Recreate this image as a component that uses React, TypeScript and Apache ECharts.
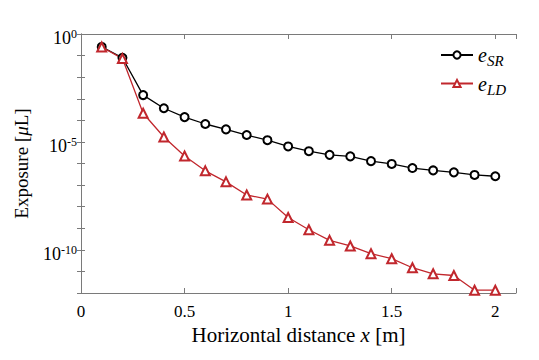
import React, { useEffect, useRef } from "react";
import * as echarts from "echarts";

const distances = [0.1, 0.2, 0.3, 0.4, 0.5, 0.6, 0.7, 0.8, 0.9, 1.0, 1.1, 1.2, 1.3, 1.4, 1.5, 1.6, 1.7, 1.8, 1.9, 2.0];
// exponents (log10 of exposure)
const eSRExp = [-0.6, -1.1, -2.83, -3.44, -3.85, -4.17, -4.42, -4.68, -4.92, -5.21, -5.43, -5.6, -5.67, -5.89, -6.02, -6.21, -6.32, -6.41, -6.53, -6.59];
const eLDExp = [-0.6, -1.14, -3.67, -4.77, -5.65, -6.34, -6.85, -7.46, -7.65, -8.5, -9.07, -9.56, -9.82, -10.18, -10.41, -10.83, -11.11, -11.19, -11.87, -11.87];
const eSR = eSRExp.map((e) => Math.pow(10, e));
const eLD = eLDExp.map((e) => Math.pow(10, e));
const xTicks = [0, 0.5, 1, 1.5, 2];
const yLabelExps = [0, -5, -10];

const FONT = "Liberation Serif, Tinos, Times New Roman, DejaVu Serif, serif";
const AXIS_GREY = "#7a7a7a";
const RED = "#c1272d";

export default function App() {
  const ref = useRef<HTMLDivElement>(null);
  useEffect(() => {
    if (!ref.current) return;
    const chart = echarts.init(ref.current, null, { renderer: "svg" });
    const xLabel = (v: number) => {
      const hit = xTicks.find((t) => Math.abs(t - v) < 1e-9);
      return hit === undefined ? "" : String(hit);
    };
    const yLabel = (v: number) => {
      const e = Math.round(Math.log10(v));
      if (!yLabelExps.includes(e)) return "";
      return `{b|10}{s|${e}}`;
    };
    const tickStyle = { show: true, inside: true, length: 5, lineStyle: { color: AXIS_GREY, width: 1 } };
    const axisLine = { show: true, lineStyle: { color: AXIS_GREY, width: 1 } };
    chart.setOption({
      animation: false,
      backgroundColor: "#fff",
      textStyle: { fontFamily: FONT },
      grid: { left: 81, top: 34, right: 23, bottom: 67, containLabel: false },
      legend: {
        orient: "vertical",
        left: 435,
        top: 40,
        itemWidth: 32,
        itemHeight: 9,
        itemGap: 5,
        data: ["eSR", "eLD"],
        formatter: (name: string) => `{e|e}{sub|${name.slice(1)}}`,
        textStyle: {
          fontFamily: FONT,
          color: "#000",
          rich: {
            e: { fontFamily: FONT, fontStyle: "italic", fontSize: 20, color: "#000" },
            sub: { fontFamily: FONT, fontStyle: "italic", fontSize: 15, color: "#000", padding: [12, 0, 0, 0] },
          },
        },
      },
      xAxis: [
        {
          type: "value",
          min: 0,
          max: 2.1,
          interval: 0.5,
          axisLine,
          axisTick: tickStyle,
          splitLine: { show: false },
          axisLabel: { formatter: xLabel, fontFamily: FONT, fontSize: 17, color: "#000", margin: 10 },
          name: "{n|Horizontal distance }{i|x}{n| [m]}",
          nameLocation: "middle",
          nameGap: 31,
          nameTextStyle: {
            fontFamily: FONT,
            rich: {
              n: { fontFamily: FONT, fontSize: 21, color: "#000" },
              i: { fontFamily: FONT, fontSize: 21, fontStyle: "italic", color: "#000" },
            },
          },
        },
        {
          type: "value",
          position: "top",
          min: 0,
          max: 2.1,
          interval: 0.5,
          axisLine,
          axisTick: tickStyle,
          splitLine: { show: false },
          axisLabel: { show: false },
        },
      ],
      yAxis: [
        {
          type: "log",
          logBase: 10,
          min: 1e-12,
          max: 1,
          interval: 1,
          axisLine,
          axisTick: { ...tickStyle, length: 4 },
          splitLine: { show: false },
          axisLabel: {
            formatter: yLabel,
            margin: 4,
            fontFamily: FONT,
            rich: {
              b: { fontFamily: FONT, fontSize: 18, color: "#000", padding: [8, 0, 0, 0] },
              s: { fontFamily: FONT, fontSize: 12, color: "#000" },
            },
          },
          name: "{n|Exposure [}{i|μ}{n|L]}",
          nameLocation: "middle",
          nameGap: 50,
          nameTextStyle: {
            fontFamily: FONT,
            rich: {
              n: { fontFamily: FONT, fontSize: 19, color: "#000" },
              i: { fontFamily: FONT, fontSize: 19, fontStyle: "italic", color: "#000" },
            },
          },
        },
        {
          type: "log",
          logBase: 10,
          position: "right",
          min: 1e-12,
          max: 1,
          interval: 1,
          axisLine,
          axisTick: { ...tickStyle, length: 4 },
          splitLine: { show: false },
          axisLabel: { show: false },
        },
      ],
      series: [
        {
          name: "eSR",
          type: "line",
          data: distances.map((x, i) => [x, eSR[i]]),
          symbol: "emptyCircle",
          symbolSize: 8,
          color: "#000",
          lineStyle: { color: "#000", width: 1.3 },
          itemStyle: { color: "#000", borderColor: "#000", borderWidth: 1.3 },
        },
        {
          name: "eLD",
          type: "line",
          data: distances.map((x, i) => [x, eLD[i]]),
          symbol: "emptyTriangle",
          symbolSize: 9,
          color: RED,
          lineStyle: { color: RED, width: 1.3 },
          itemStyle: { color: RED, borderColor: RED, borderWidth: 1.3 },
        },
      ],
    });
    return () => chart.dispose();
  }, []);
  return <div ref={ref} style={{ width: 539, height: 360, position: "absolute", left: 0, top: 0 }} />;
}
